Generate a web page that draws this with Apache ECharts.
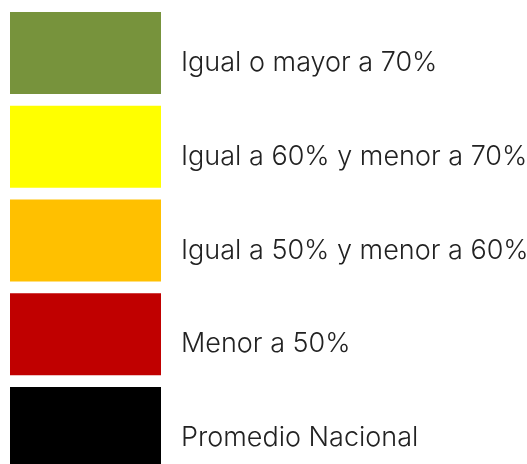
<!DOCTYPE html>
<html><head><meta charset="utf-8">
<script src="https://cdn.jsdelivr.net/npm/echarts@6/dist/echarts.min.js"></script>
<style>html,body{margin:0;padding:0;background:#fff}#c{width:527px;height:464px}</style>
</head><body><div id="c"></div>
<script>
const categories = ["Igual o mayor a 70%", "Igual a 60% y menor a 70%", "Igual a 50% y menor a 60%", "Menor a 50%", "Promedio Nacional"];
const values = [1, 1, 1, 1, 1];
const colors = ["#77933c", "#ffff00", "#ffc000", "#c00000", "#000000"];

const chart = echarts.init(document.getElementById('c'));
chart.setOption({
  animation: false,
  grid: { left: 10, width: 151, top: 6, height: 468.75, containLabel: false, outerBoundsMode: 'none' },
  xAxis: { type: 'value', min: 0, max: 1, show: false },
  yAxis: { type: 'category', data: categories, inverse: true, show: false },
  series: [{
    type: 'bar',
    barWidth: 82,
    clip: false,
    data: values.map((v, i) => ({ value: v, itemStyle: { color: colors[i] } })),
    label: {
      show: true, position: 'right', distance: 20,
      formatter: p => p.name,
      fontFamily: 'Inter', fontWeight: 300, fontSize: 27, color: '#222',
      offset: [0, 10]
    }
  }]
});
</script></body></html>
